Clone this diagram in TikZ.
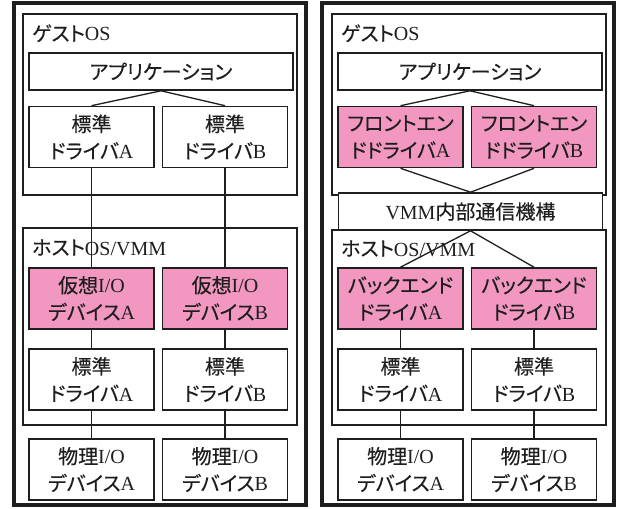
\documentclass[tikz,border=0pt]{standalone}
\usepackage{fontspec}
\setmainfont{Liberation Serif}
\newfontfamily\jp[RawFeature=+palt, FakeBold=0.3]{Noto Sans CJK JP}
\definecolor{pinkfill}{RGB}{241,151,192}
\definecolor{ink}{RGB}{30,30,30}
\tikzset{
  txt/.style={font=\fontsize{20}{27}\selectfont, text=ink},
  box/.style={txt, draw=ink, line width=1.6pt, fill=white, minimum width=125pt, minimum height=61pt, inner sep=0pt, align=center},
  pinkbox/.style={box, fill=pinkfill},
  widebox/.style={box, minimum width=264pt, minimum height=37pt},
  container/.style={draw=ink, line width=1.6pt},
  frame/.style={draw=ink, line width=4pt},
  conn/.style={draw=ink, line width=1.3pt},
  lbl/.style={txt, anchor=base west, inner sep=0pt}
}
\begin{document}
\begin{tikzpicture}[x=1pt, y=-1pt]
\useasboundingbox (0,0) rectangle (617,508);
% ---------- left panel ----------
\draw[frame] (14,3) rectangle (306,505);
\draw[container] (23,14) rectangle (297,195);
\draw[container] (23,228) rectangle (297,425);
\node[lbl] (lgl) at (32,41) {{\jp ゲスト}OS};
\node[lbl] (lhl) at (32,255) {{\jp ホスト}OS/VMM};
\node[widebox] (lapp) at (161,71.5) {\jp アプリケーション};
\node[box] (lgA) at (91.5,137) {{\jp 標準}\\{\jp ドライバ}A};
\node[box] (lgB) at (225,137) {{\jp 標準}\\{\jp ドライバ}B};
\node[pinkbox] (lvA) at (91.5,298.5) {{\jp 仮想}I/O\\{\jp デバイス}A};
\node[pinkbox] (lvB) at (225,298.5) {{\jp 仮想}I/O\\{\jp デバイス}B};
\node[box] (lhA) at (91.5,379.5) {{\jp 標準}\\{\jp ドライバ}A};
\node[box] (lhB) at (225,379.5) {{\jp 標準}\\{\jp ドライバ}B};
\node[box] (lpA) at (91.5,469.5) {{\jp 物理}I/O\\{\jp デバイス}A};
\node[box] (lpB) at (225,469.5) {{\jp 物理}I/O\\{\jp デバイス}B};
\draw[conn] (lapp.south) -- (lgA.north);
\draw[conn] (lapp.south) -- (lgB.north);
\draw[conn] (lgA.south) -- (lvA.north);
\draw[conn] (lgB.south) -- (lvB.north);
\draw[conn] (lvA.south) -- (lhA.north);
\draw[conn] (lvB.south) -- (lhB.north);
\draw[conn] (lhA.south) -- (lpA.north);
\draw[conn] (lhB.south) -- (lpB.north);
% ---------- right panel ----------
\draw[frame] (322,3) rectangle (614,505);
\draw[container] (332,14) rectangle (606,195);
\draw[container] (332,230) rectangle (606,425);
\node[lbl] (rgl) at (341,41) {{\jp ゲスト}OS};
\node[lbl] (rhl) at (341,256) {{\jp ホスト}OS/VMM};
\node[widebox] (rapp) at (470,71.5) {\jp アプリケーション};
\node[pinkbox] (rfA) at (400.5,137) {{\jp フロントエン}\\{\jp ドドライバ}A};
\node[pinkbox] (rfB) at (534,137) {{\jp フロントエン}\\{\jp ドドライバ}B};
\node[widebox] (rvmm) at (470.5,211.5) {VMM{\jp 内部通信機構}};
\node[pinkbox] (rbA) at (400.5,298.5) {{\jp バックエンド}\\{\jp ドライバ}A};
\node[pinkbox] (rbB) at (534,298.5) {{\jp バックエンド}\\{\jp ドライバ}B};
\node[box] (rhA) at (400.5,379.5) {{\jp 標準}\\{\jp ドライバ}A};
\node[box] (rhB) at (534,379.5) {{\jp 標準}\\{\jp ドライバ}B};
\node[box] (rpA) at (400.5,469.5) {{\jp 物理}I/O\\{\jp デバイス}A};
\node[box] (rpB) at (534,469.5) {{\jp 物理}I/O\\{\jp デバイス}B};
\draw[conn] (rapp.south) -- (rfA.north);
\draw[conn] (rapp.south) -- (rfB.north);
\draw[conn] (rfA.south) -- (rvmm.north);
\draw[conn] (rfB.south) -- (rvmm.north);
\draw[conn] (rvmm.south) -- (rbA.north);
\draw[conn] (rvmm.south) -- (rbB.north);
\draw[conn] (rbA.south) -- (rhA.north);
\draw[conn] (rbB.south) -- (rhB.north);
\draw[conn] (rhA.south) -- (rpA.north);
\draw[conn] (rhB.south) -- (rpB.north);
\end{tikzpicture}
\end{document}
